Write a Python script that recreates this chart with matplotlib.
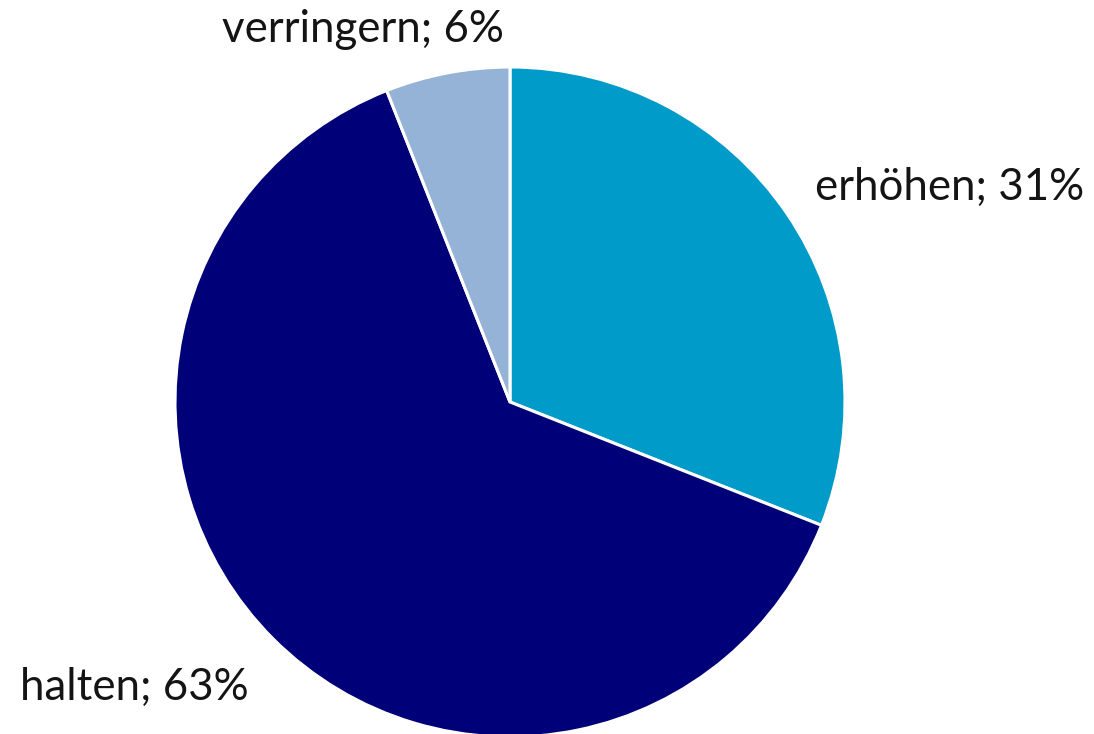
import matplotlib.pyplot as plt

categories = ["erhöhen", "halten", "verringern"]
shares = [31, 63, 6]
colors = ["#009BC9", "#000078", "#95B3D7"]

plt.rcParams["font.family"] = ["Lato", "DejaVu Sans"]

fig = plt.figure(figsize=(10.94, 7.34), dpi=100)
ax = fig.add_axes([0, 0, 1, 1])

wedges, texts = ax.pie(
    shares,
    colors=colors,
    startangle=90,
    counterclock=False,
    center=(510, 332),
    radius=335,
    labels=[f"{c}; {v}%" for c, v in zip(categories, shares)],
    wedgeprops=dict(edgecolor="white", linewidth=2.2),
    textprops=dict(fontsize=31.5, color="#141414"),
    frame=True,
)
ax.axis("off")
ax.set_xlim(0, 1094)
ax.set_ylim(0, 734)
ax.set_aspect("equal")

# place labels like the original
label_pos = [(815, 547, "left"), (20, 47, "left"), (363, 704, "center")]
for t, (x, y, ha) in zip(texts, label_pos):
    t.set_position((x, y))
    t.set_ha(ha)
    t.set_va("center")

fig.savefig("out.png", dpi=100)
